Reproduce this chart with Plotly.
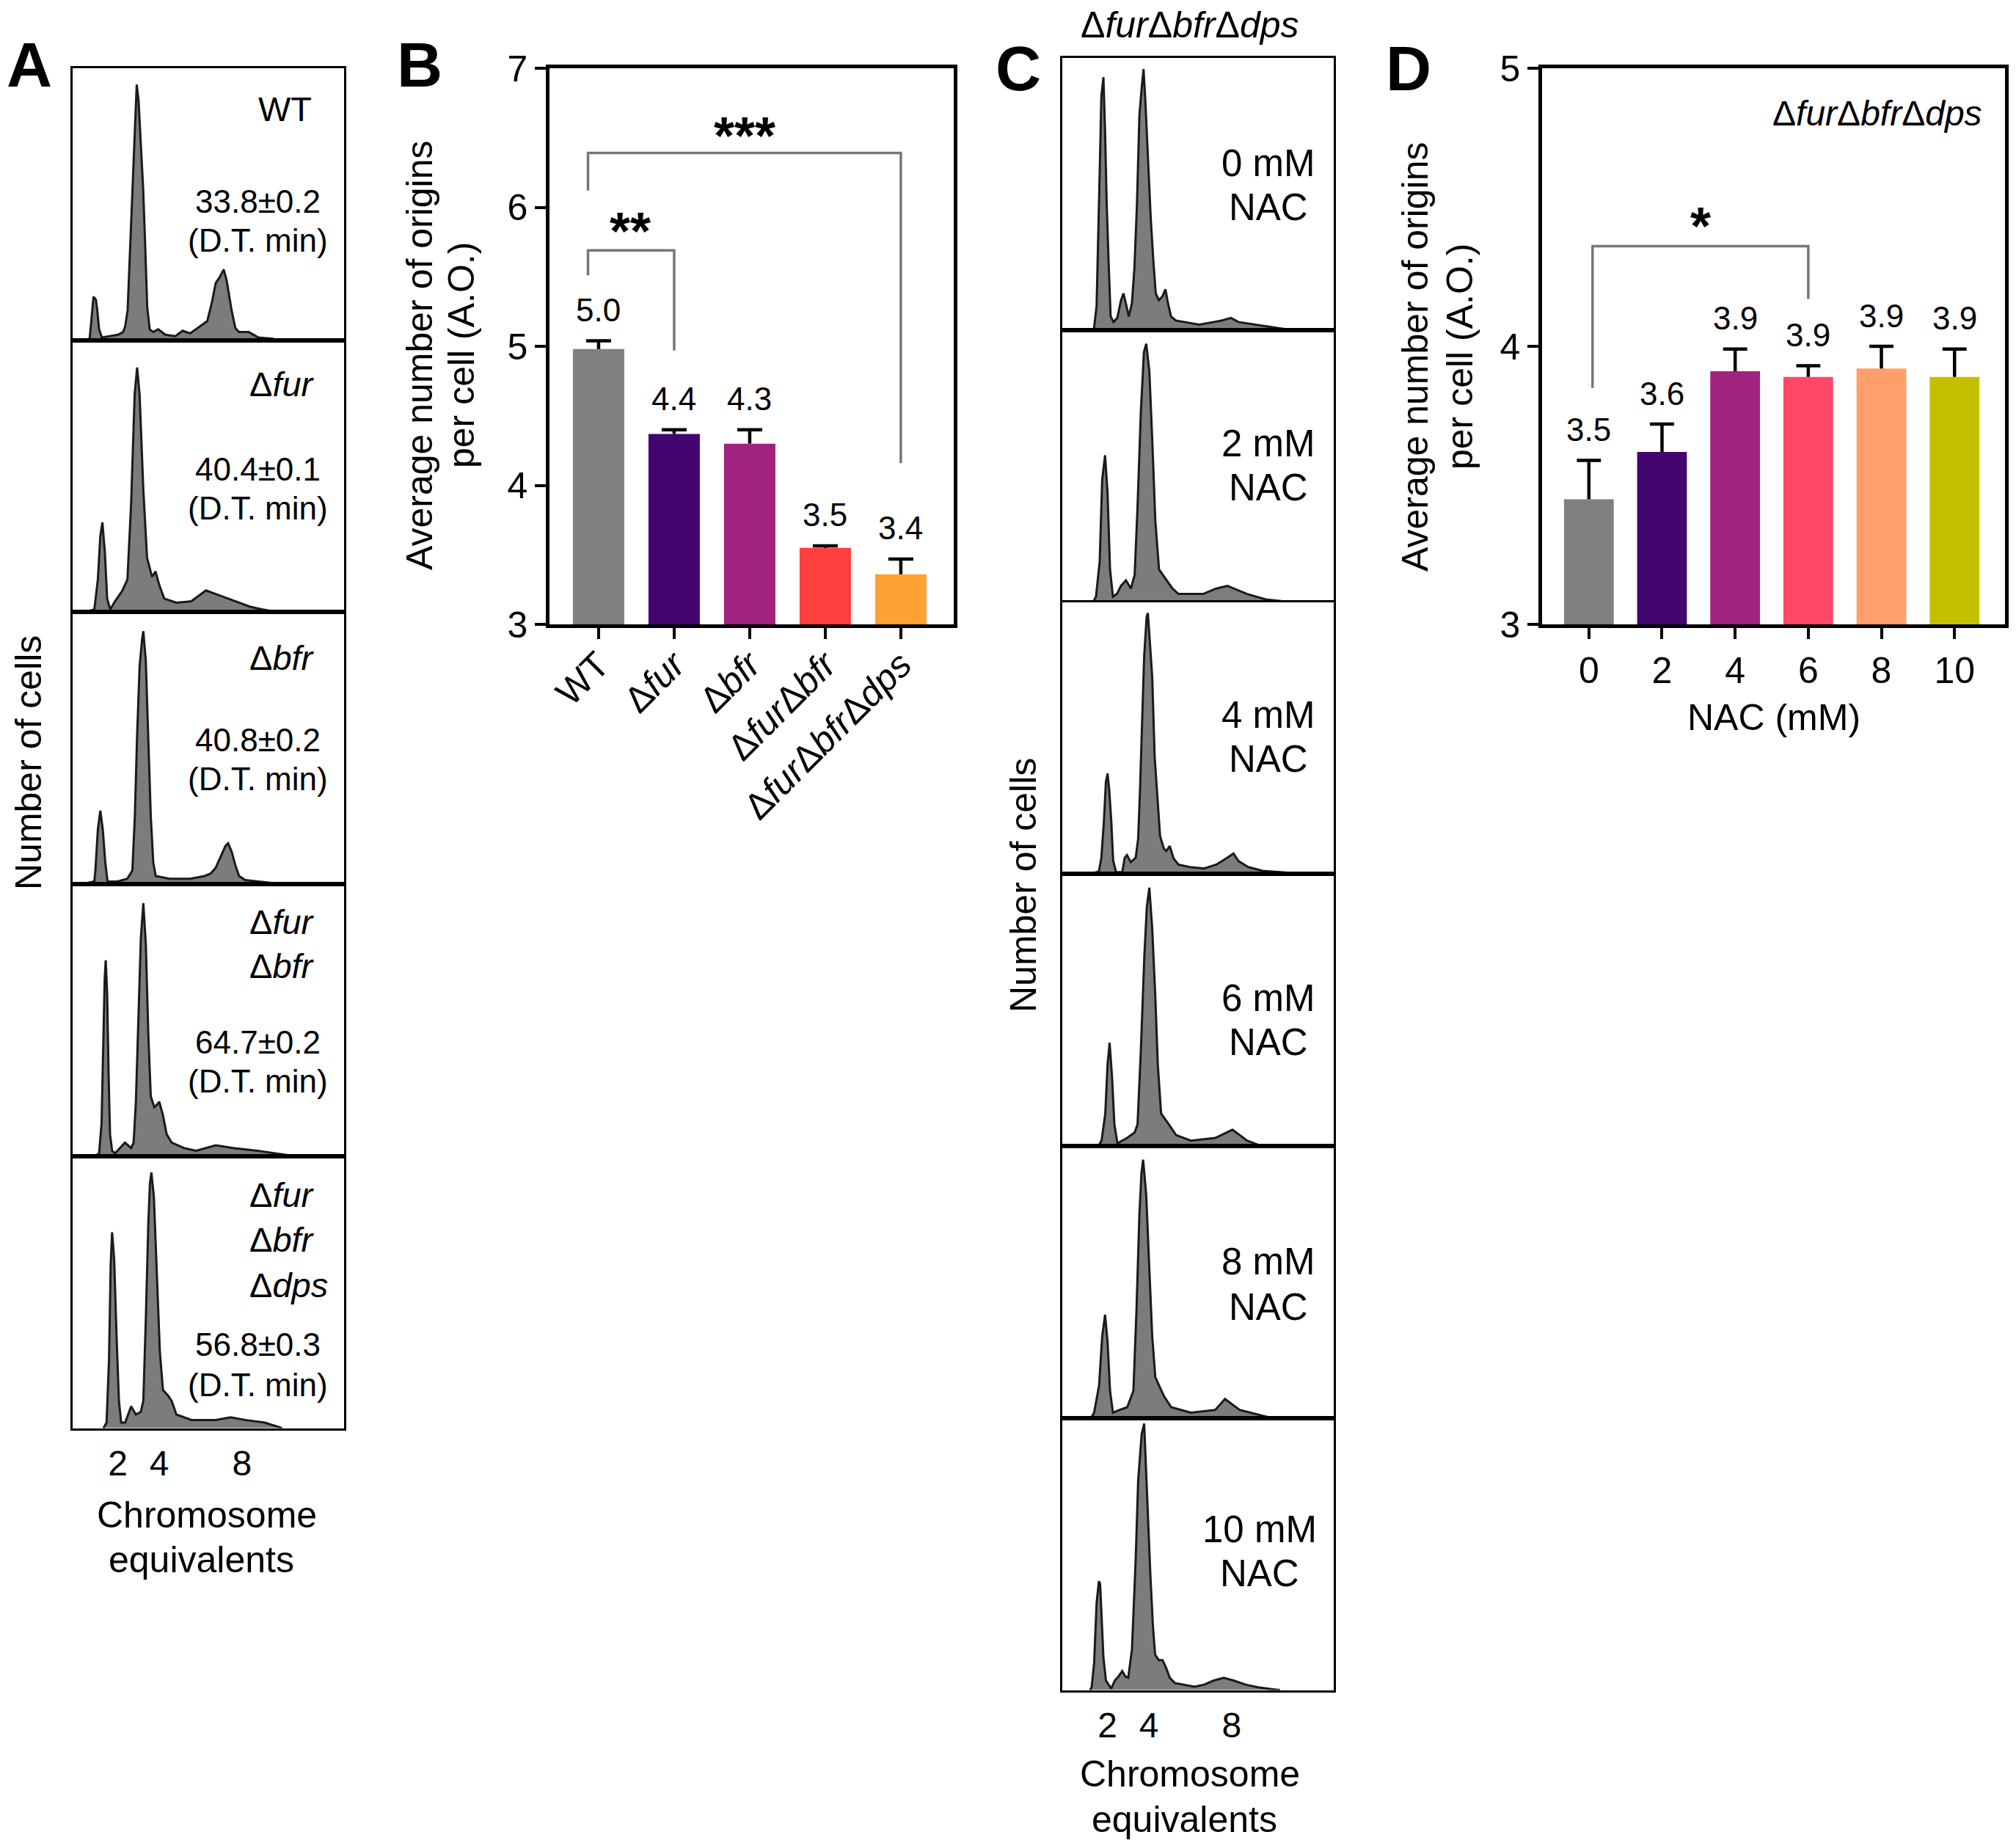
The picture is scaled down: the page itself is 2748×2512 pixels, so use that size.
import plotly.graph_objects as go

W, H = 2748, 2512
FONT = "Liberation Sans"

# ---------------- data ----------------
HIST_TICKS = [2, 4, 8]

A_GENOTYPES = [["WT"], ["Δ<i>fur</i>"], ["Δ<i>bfr</i>"],
               ["Δ<i>fur</i>", "Δ<i>bfr</i>"],
               ["Δ<i>fur</i>", "Δ<i>bfr</i>", "Δ<i>dps</i>"]]
A_DOUBLING = ["33.8±0.2", "40.4±0.1", "40.8±0.2", "64.7±0.2", "56.8±0.3"]

# histogram outlines: (chromosome equivalents, % of panel height)
A_WT = [(0.55, 0), (0.64, 1), (0.70, 6), (0.82, 16), (0.93, 15), (0.99, 12), (1.09, 4),
        (1.23, 1), (1.6, 1.5), (2.0, 2), (2.25, 3), (2.35, 5), (2.47, 11), (2.55, 26),
        (2.65, 41), (2.74, 62), (2.84, 79), (2.91, 94), (3.0, 88), (3.07, 77), (3.22, 56),
        (3.31, 37), (3.42, 12), (3.54, 4), (3.71, 3), (3.95, 4), (4.3, 2), (4.78, 1.5),
        (5.13, 3.5), (5.49, 2.5), (5.96, 5), (6.32, 7), (6.55, 14), (6.73, 21), (6.91, 23),
        (7.12, 26), (7.26, 22), (7.5, 11), (7.68, 4.5), (7.85, 3), (8.33, 3), (8.8, 1),
        (9.51, 0.5), (9.7, 0)]
A_FUR = [(0.38, 0), (0.86, 1), (1.03, 12), (1.15, 28), (1.25, 33), (1.37, 22), (1.48, 5),
         (1.63, 1), (1.86, 4), (2.22, 8), (2.46, 12), (2.64, 40), (2.81, 80), (2.93, 90),
         (3.05, 80), (3.23, 45), (3.41, 20), (3.65, 13), (3.82, 15), (4.0, 10), (4.24, 5),
         (4.83, 3.5), (5.55, 4), (6.26, 8), (6.97, 6), (7.68, 4), (8.4, 2), (9.0, 1), (9.82, 0)]
A_BFR = [(0.2, 0), (0.86, 1), (0.91, 5), (1.03, 20), (1.15, 27), (1.27, 20), (1.39, 8),
         (1.5, 1), (1.98, 1), (2.45, 2), (2.7, 5), (2.82, 25), (2.93, 55), (3.05, 80),
         (3.17, 90), (3.23, 93), (3.35, 82), (3.47, 55), (3.59, 25), (3.71, 8), (3.83, 3),
         (4.5, 2), (5.5, 2), (6.2, 3), (6.5, 4), (6.73, 6), (6.97, 10), (7.2, 14), (7.33, 15),
         (7.5, 12), (7.68, 7), (7.86, 3), (8.16, 1.5), (9.35, 0.5), (9.94, 0)]
A_FURBFR = [(0.9, 0), (1.09, 1), (1.21, 12), (1.29, 40), (1.36, 65), (1.41, 72), (1.48, 60),
            (1.55, 30), (1.62, 8), (1.72, 2), (1.86, 1), (2.1, 3), (2.34, 5), (2.64, 3),
            (2.76, 5), (2.87, 20), (2.99, 50), (3.11, 80), (3.23, 93), (3.35, 78), (3.47, 45),
            (3.59, 22), (3.76, 18), (3.9, 19), (4.0, 20), (4.18, 15), (4.36, 8), (4.6, 5),
            (5.19, 3), (5.78, 2), (6.73, 4), (7.57, 3), (8.75, 2), (9.6, 1), (10.53, 0)]
A_FURBFRDPS = [(1.3, 0), (1.45, 2), (1.57, 25), (1.65, 60), (1.72, 72), (1.82, 62), (1.93, 35),
               (2.05, 10), (2.16, 2), (2.35, 2), (2.64, 8), (2.87, 5), (3.11, 6), (3.23, 10),
               (3.35, 40), (3.47, 75), (3.55, 90), (3.62, 94), (3.74, 85), (3.88, 55),
               (4.03, 28), (4.18, 14), (4.42, 12), (4.6, 10), (4.83, 5), (5.55, 3), (6.73, 3),
               (7.45, 4), (8.16, 3), (9.1, 2), (9.94, 0)]

C_NAC_LABELS = ["0 mM", "2 mM", "4 mM", "6 mM", "8 mM", "10 mM"]
C_0 = [(1.3, 0), (1.35, 1), (1.47, 9), (1.56, 35), (1.64, 65), (1.70, 86), (1.80, 93),
       (1.88, 73), (1.96, 46), (2.06, 23), (2.15, 5), (2.29, 3), (2.47, 4.5), (2.65, 11),
       (2.77, 13.5), (2.91, 9), (3.03, 5), (3.18, 10), (3.30, 23), (3.42, 46), (3.54, 79),
       (3.65, 89), (3.74, 96), (3.83, 84), (3.95, 64), (4.09, 41), (4.21, 26), (4.33, 13.5),
       (4.48, 11), (4.66, 12.5), (4.80, 15), (4.92, 10), (5.07, 5), (5.31, 3.5), (5.72, 3),
       (6.43, 2), (7.14, 3), (7.5, 3.5), (7.97, 4.5), (8.33, 3), (9.15, 2), (10.46, 0.5),
       (10.93, 0)]
C_2 = [(1.3, 0), (1.44, 2), (1.62, 15), (1.74, 45), (1.88, 54), (2.0, 40), (2.12, 12),
       (2.26, 2), (2.45, 3), (2.65, 6), (2.89, 8), (3.13, 5), (3.31, 10), (3.45, 35), (3.61, 70),
       (3.76, 92), (3.87, 95), (4.02, 85), (4.16, 60), (4.31, 30), (4.49, 12), (4.85, 8),
       (5.14, 5), (5.43, 3), (6.62, 3), (7.25, 5), (7.8, 6), (8.75, 3), (9.65, 1), (10.88, 0)]
C_4 = [(1.17, 0), (1.58, 1), (1.70, 6), (1.82, 19), (1.92, 34), (2.0, 37), (2.08, 31),
       (2.18, 19.5), (2.27, 5), (2.41, 0.7), (2.71, 0.7), (2.83, 6), (2.94, 7), (3.12, 4.4),
       (3.36, 6), (3.48, 13), (3.57, 31), (3.69, 59), (3.77, 80), (3.89, 94.5), (3.95, 96),
       (4.04, 86), (4.16, 72.5), (4.28, 43), (4.42, 27), (4.54, 14), (4.72, 9.4), (4.84, 8.5),
       (5.01, 10.3), (5.19, 5.8), (5.43, 3.5), (5.96, 2.6), (6.67, 2.1), (7.26, 3.5),
       (7.74, 5.8), (8.09, 7.6), (8.33, 4.8), (8.8, 2.6), (9.51, 1.2), (10.46, 0.7), (11.64, 0)]
C_6 = [(1.55, 0), (1.71, 2), (1.89, 12), (2.0, 30), (2.1, 38), (2.22, 25), (2.33, 8),
       (2.48, 1), (2.7, 2), (2.95, 3), (3.31, 5), (3.45, 8), (3.61, 35), (3.78, 70), (3.9, 88),
       (4.02, 95), (4.16, 80), (4.31, 55), (4.43, 30), (4.59, 12), (4.96, 8), (5.32, 4),
       (6.03, 2), (7.21, 3), (8.04, 6), (8.75, 2), (9.45, 0)]
C_8 = [(1.2, 0), (1.35, 2), (1.59, 12), (1.74, 30), (1.88, 38), (2.0, 28), (2.12, 10),
       (2.26, 2), (2.59, 3), (2.95, 4), (3.25, 10), (3.4, 40), (3.54, 75), (3.64, 90),
       (3.72, 95), (3.87, 82), (4.02, 55), (4.16, 30), (4.31, 15), (4.73, 8), (5.08, 4),
       (6.03, 2), (7.21, 3), (7.68, 7), (8.39, 3), (9.93, 0)]
C_10 = [(1.15, 0), (1.23, 1), (1.35, 10), (1.47, 32), (1.58, 40), (1.64, 39), (1.70, 29),
        (1.80, 12), (1.92, 3.5), (2.06, 2), (2.18, 0.5), (2.35, 3.5), (2.53, 5), (2.71, 7),
        (2.86, 5), (3.0, 4.5), (3.18, 15), (3.26, 29.5), (3.36, 48), (3.48, 77), (3.57, 86),
        (3.65, 94), (3.77, 98), (3.86, 81), (3.95, 67.5), (4.07, 42.5), (4.19, 24), (4.3, 13),
        (4.48, 11), (4.66, 11), (4.84, 8), (5.01, 4.5), (5.25, 2.6), (5.72, 2), (6.2, 1.2),
        (6.67, 2), (7.14, 3.5), (7.62, 4.5), (8.09, 3.5), (8.68, 2), (9.27, 1), (9.98, 0.3),
        (10.34, 0)]

B_STRAINS = ["WT", "Δ<i>fur</i>", "Δ<i>bfr</i>", "Δ<i>fur</i>Δ<i>bfr</i>",
             "Δ<i>fur</i>Δ<i>bfr</i>Δ<i>dps</i>"]
B_MEANS = [4.98, 4.37, 4.30, 3.55, 3.36]
B_ERR = [0.06, 0.03, 0.10, 0.015, 0.11]
B_LABELS = ["5.0", "4.4", "4.3", "3.5", "3.4"]
B_COLORS = ["#808080", "#43066E", "#A0237F", "#FF3E3E", "#FCA132"]
# brackets: (x_left, x_right, y_left_end, y_top, y_right_end, stars, star_x, star_y)
B_BRACKETS = [(-0.14, 1.0, 5.51, 5.69, 4.97, "**", 0.42, 5.90),
              (-0.14, 4.0, 6.12, 6.39, 4.16, "***", 1.93, 6.59)]

D_NAC = ["0", "2", "4", "6", "8", "10"]
D_MEANS = [3.45, 3.62, 3.91, 3.89, 3.92, 3.89]
D_ERR = [0.14, 0.10, 0.08, 0.04, 0.08, 0.10]
D_LABELS = ["3.5", "3.6", "3.9", "3.9", "3.9", "3.9"]
D_COLORS = ["#808080", "#43066E", "#A0237F", "#FF4868", "#FFA06A", "#C4C000"]
D_BRACKETS = [(0.05, 3.0, 3.85, 4.36, 4.17, "*", 1.53, 4.47)]

# ---------------- layout helpers ----------------
fig = go.Figure()
layout = dict(width=W, height=H, margin=dict(l=0, r=0, t=0, b=0, autoexpand=False),
              paper_bgcolor="white", plot_bgcolor="white", showlegend=False,
              template="none", font=dict(family=FONT, color="black"))
annotations = []


def fx(p):
    return p / W


def fy(p):
    return 1 - p / H


def ann(text, x, y, size=44, xanchor="center", yanchor="middle", angle=0):
    annotations.append(dict(text=text, x=fx(x), y=fy(y), xref="paper", yref="paper",
                            showarrow=False, xanchor=xanchor, yanchor=yanchor,
                            textangle=angle, font=dict(family=FONT, size=size, color="black")))


def refs(n):
    return ("x" if n == 1 else f"x{n}", "y" if n == 1 else f"y{n}",
            "xaxis" if n == 1 else f"xaxis{n}", "yaxis" if n == 1 else f"yaxis{n}")


PANEL_H = 370.7
HIST_RANGE = [-0.19, 12.94]


def add_hist(n, pts, left, right, top, bottom_ticks):
    xr, yr, xk, yk = refs(n)
    xs = [p[0] for p in pts]
    ys = [p[1] for p in pts]
    fig.add_trace(go.Scatter(x=xs, y=ys, mode="lines", fill="tozeroy", fillcolor="#7c7c7c",
                             line=dict(color="#1a1a1a", width=3), xaxis=xr, yaxis=yr,
                             hoverinfo="skip"))
    layout[xk] = dict(domain=[fx(left), fx(right)], range=HIST_RANGE, anchor=yr,
                      automargin=False,
                      showline=True, mirror=True, linecolor="black", linewidth=3,
                      showgrid=False, zeroline=False, ticks="",
                      showticklabels=bottom_ticks, tickvals=HIST_TICKS,
                      ticktext=[str(t) for t in HIST_TICKS],
                      tickfont=dict(family=FONT, size=48), ticklabelstandoff=4)
    layout[yk] = dict(domain=[fy(top + PANEL_H), fy(top)], range=[0, 100], anchor=xr,
                      automargin=False,
                      showline=True, mirror=True, linecolor="black", linewidth=3,
                      showgrid=False, zeroline=False, ticks="", showticklabels=False)


# ---------------- panel A ----------------
A_LEFT, A_RIGHT, A_TOP = 99, 469, 93
A_HISTS = [A_WT, A_FUR, A_BFR, A_FURBFR, A_FURBFRDPS]
A_NAME_Y = [[55], [60], [62], [51, 111], [53, 114, 176]]
A_DT_Y = [(181, 234), (176, 229), (174, 227), (215, 268), (257, 312)]
for i, pts in enumerate(A_HISTS):
    top = A_TOP + i * PANEL_H
    add_hist(i + 1, pts, A_LEFT, A_RIGHT, top, i == len(A_HISTS) - 1)
    for line, dy in zip(A_GENOTYPES[i], A_NAME_Y[i]):
        ann(line, 350 if line == "WT" else 338, top + dy, size=47, xanchor="left")
    ann(A_DOUBLING[i], 351, top + A_DT_Y[i][0], size=44)
    ann("(D.T. min)", 351, top + A_DT_Y[i][1], size=44)

ann("<b>A</b>", 40, 88, size=86)
ann("Number of cells", 39, 1040, size=50, angle=-90)
ann("Chromosome", 282, 2065, size=50)
ann("equivalents", 274, 2126, size=50)

# ---------------- panel C ----------------
C_LEFT, C_RIGHT, C_TOP = 1448, 1818, 79.3
C_HISTS = [C_0, C_2, C_4, C_6, C_8, C_10]
C_TXT_Y = [(143, 203), (154, 214), (154, 214), (169, 229), (157, 219), (152, 212)]
for i, pts in enumerate(C_HISTS):
    top = C_TOP + i * PANEL_H
    add_hist(6 + i, pts, C_LEFT, C_RIGHT, top, i == len(C_HISTS) - 1)
    cx = 1717 if i == 5 else 1729
    ann(C_NAC_LABELS[i], cx, top + C_TXT_Y[i][0], size=51)
    ann("NAC", cx, top + C_TXT_Y[i][1], size=51)

ann("Δ<i>fur</i>Δ<i>bfr</i>Δ<i>dps</i>", 1622, 34, size=50)
ann("<b>C</b>", 1388, 93, size=86)
ann("Number of cells", 1395, 1207, size=50, angle=-90)
ann("Chromosome", 1622, 2418, size=50)
ann("equivalents", 1614, 2480, size=50)


# ---------------- bar panels ----------------
def bar_panel(n, left, right, top, bottom, xlabels, means, errs, labels, colors,
              xrange_, yrange, yticks, brackets, xangle, xstandoff):
    xr, yr, xk, yk = refs(n)
    idx = list(range(len(means)))
    fig.add_trace(go.Bar(x=idx, y=means, width=0.68, marker=dict(color=colors, line=dict(width=0)),
                         xaxis=xr, yaxis=yr, hoverinfo="skip"))
    # upward-only error bars: stem from the bar top, cap at mean + err
    ex, ey = [], []
    for i in idx:
        tip = means[i] + errs[i]
        ex += [i, i, None, i - 0.165, i + 0.165, None]
        ey += [means[i], tip, None, tip, tip, None]
    fig.add_trace(go.Scatter(x=ex, y=ey, mode="lines", line=dict(color="black", width=4.5),
                             xaxis=xr, yaxis=yr, hoverinfo="skip"))
    layout[xk] = dict(domain=[fx(left), fx(right)], range=xrange_, anchor=yr,
                      automargin=False,
                      showline=True, mirror=True, linecolor="black", linewidth=4.5,
                      showgrid=False, zeroline=False, ticks="outside", ticklen=15,
                      tickwidth=4, tickcolor="black", tickvals=idx, ticktext=xlabels,
                      tickangle=xangle, tickfont=dict(family=FONT, size=50),
                      ticklabelstandoff=xstandoff)
    layout[yk] = dict(domain=[fy(bottom), fy(top)], range=yrange, anchor=xr,
                      automargin=False,
                      showline=True, mirror=True, linecolor="black", linewidth=4.5,
                      showgrid=False, zeroline=False, ticks="outside", ticklen=15,
                      tickwidth=4, tickcolor="black", tickvals=yticks,
                      ticktext=[str(t) for t in yticks], tickfont=dict(family=FONT, size=50))
    for i in idx:
        annotations.append(dict(text=labels[i], x=i, y=means[i] + errs[i], xref=xr, yref=yr,
                                showarrow=False, yanchor="middle", yshift=42,
                                font=dict(family=FONT, size=44, color="black")))
    for (x0, x1, yl, yt, yrr, stars, sx, sy) in brackets:
        fig.add_trace(go.Scatter(x=[x0, x0, x1, x1], y=[yl, yt, yt, yrr], mode="lines",
                                 line=dict(color="#777777", width=3.5), xaxis=xr, yaxis=yr,
                                 hoverinfo="skip"))
        annotations.append(dict(text=f"<b>{stars}</b>", x=sx, y=sy, xref=xr, yref=yr,
                                showarrow=False, yanchor="middle", yshift=-14,
                                font=dict(family=FONT, size=72, color="black")))


bar_panel(12, 749, 1300, 93, 851, B_STRAINS, B_MEANS, B_ERR, B_LABELS, B_COLORS,
          [-0.65, 4.70], [3, 7], [3, 4, 5, 6, 7], B_BRACKETS, -45, -14)
ann("<b>B</b>", 572, 88, size=86)
ann("Average number of origins", 572, 484, size=50, angle=-90)
ann("per cell (A.O.)", 629, 484, size=50, angle=-90)

bar_panel(13, 2102, 2733, 93, 851, D_NAC, D_MEANS, D_ERR, D_LABELS, D_COLORS,
          [-0.64, 5.69], [3, 5], [3, 4, 5], D_BRACKETS, 0, 0)
ann("<b>D</b>", 1920, 93, size=86)
ann("Average number of origins", 1929, 486, size=50, angle=-90)
ann("per cell (A.O.)", 1990, 486, size=50, angle=-90)
ann("NAC (mM)", 2418, 978, size=50)
ann("Δ<i>fur</i>Δ<i>bfr</i>Δ<i>dps</i>", 2704, 155, size=48, xanchor="right")

layout["annotations"] = annotations
fig.update_layout(**layout)
fig.write_html("out.html", config={"displayModeBar": False},
               post_script="document.body.style.margin='0';document.body.style.padding='0';")
